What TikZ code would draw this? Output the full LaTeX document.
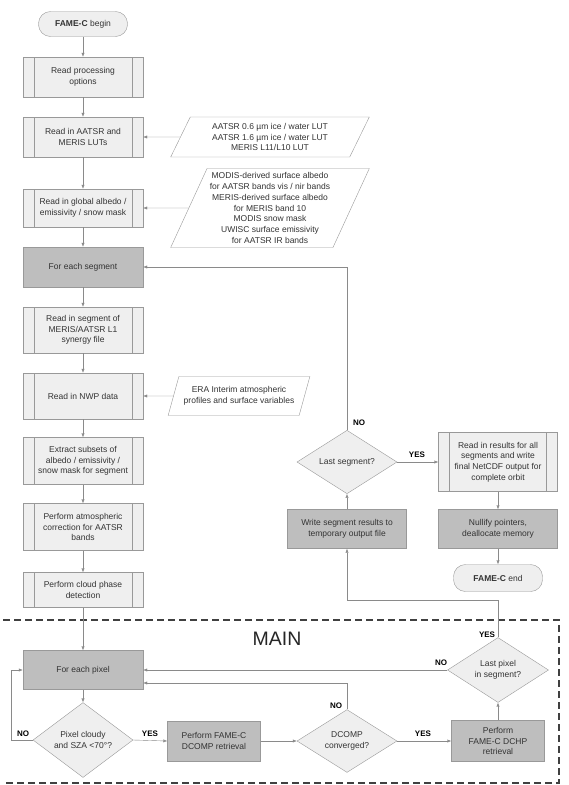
\documentclass[tikz,border=0pt]{standalone}
\usepackage{fontspec}
\setmainfont{Liberation Sans}
\usetikzlibrary{shapes.geometric,arrows.meta}

\definecolor{lightbox}{HTML}{EFEFEF}
\definecolor{darkbox}{HTML}{BEBEBE}
\definecolor{edge}{HTML}{999999}
\definecolor{wire}{HTML}{8A8A8A}
\definecolor{ink}{HTML}{333333}

\begin{document}
\begin{tikzpicture}[x=1pt,y=-1pt,
    every node/.style={font=\fontsize{8.5}{10.7}\selectfont, text=ink, align=center},
    proc/.style={draw=edge, fill=lightbox, minimum width=120pt, minimum height=40pt, inner sep=1pt,
        path picture={
            \draw[edge] ([xshift=11pt]path picture bounding box.north west) -- ([xshift=11pt]path picture bounding box.south west);
            \draw[edge] ([xshift=-11pt]path picture bounding box.north east) -- ([xshift=-11pt]path picture bounding box.south east);}},
    task/.style={draw=edge, fill=darkbox, minimum width=120pt, minimum height=40pt, inner sep=1pt},
    term/.style={draw=edge, fill=lightbox, rounded corners=12pt, minimum width=89pt, minimum height=25pt},
    test/.style={diamond, draw=edge, fill=lightbox, minimum width=100pt, minimum height=59pt, inner sep=0pt},
    data/.style={trapezium, trapezium left angle=64, trapezium right angle=116, trapezium stretches=true,
        draw=edge, fill=white, inner sep=1pt},
    arr/.style={draw=wire, -{Latex[length=4pt,width=3.2pt]}},
    tag/.style={font=\fontsize{8}{9}\selectfont\bfseries, text=black}]

    % page size, same proportions as the original figure
    \fill[white] (0,0) rectangle (569,785);
    \useasboundingbox (0,0) rectangle (569,785);

    % main column
    \node[term] (fcbegin) at (83,24) {\textbf{FAME-C} begin};
    \node[proc] (opts) at (83,77) {Read processing\\options};
    \node[proc] (luts) at (83,137) {Read in AATSR and\\MERIS LUTs};
    \node[proc, minimum height=38pt] (albedo) at (83,208) {Read in global albedo /\\emissivity / snow mask};
    \node[task] (seg) at (83,267) {For each segment};
    \node[proc, minimum height=46pt] (synergy) at (83,330) {Read in segment of\\MERIS/AATSR L1\\synergy file};
    \node[proc, minimum height=46pt] (nwp) at (83,396) {Read in NWP data};
    \node[proc, minimum height=47pt] (subsets) at (83,461) {Extract subsets of\\albedo / emissivity /\\snow mask for segment};
    \node[proc, minimum height=47pt] (atmos) at (83,527) {Perform atmospheric\\correction for AATSR\\bands};
    \node[proc, minimum height=35pt] (phase) at (83,590) {Perform cloud phase\\detection};

    % input data
    \node[data, minimum width=199pt, minimum height=40pt] (lutdata) at (270,137)
        {AATSR 0.6 µm ice / water LUT\\AATSR 1.6 µm ice / water LUT\\MERIS L11/L10 LUT};
    \node[data, minimum width=199pt, minimum height=79pt] (albdata) at (270,208)
        {MODIS-derived surface albedo\\for AATSR bands vis / nir bands\\MERIS-derived surface albedo\\for MERIS band 10\\MODIS snow mask\\UWISC surface emissivity\\for AATSR IR bands};
    \node[data, minimum width=142pt, minimum height=39pt] (eradata) at (239,396)
        {ERA Interim atmospheric\\profiles and surface variables};

    % segment loop, right hand side
    \node[test] (lastseg) at (347,462) {Last segment?};
    \node[task, minimum width=119pt, minimum height=39pt] (write) at (347,529) {Write segment results to\\temporary output file};
    \node[proc, minimum width=119pt, minimum height=59pt] (results) at (498,462) {Read in results for all\\segments and write\\final NetCDF output for\\complete orbit};
    \node[task, minimum width=119pt, minimum height=39pt] (nullify) at (498,529) {Nullify pointers,\\deallocate memory};
    \node[term, minimum height=27pt] (fcend) at (498,578) {\textbf{FAME-C} end};

    % pixel loop (MAIN)
    \node[task, minimum height=39pt] (pixel) at (83,670) {For each pixel};
    \node[test] (cloudy) at (83,740) {Pixel cloudy\\and SZA <70°?};
    \node[task, minimum width=93pt] (dcomp) at (214,741) {Perform FAME-C\\DCOMP retrieval};
    \node[test, minimum height=60pt] (conv) at (347,741) {DCOMP\\converged?};
    \node[task, minimum width=93pt, minimum height=41pt] (dchp) at (498,741) {Perform\\FAME-C DCHP\\retrieval};
    \node[test, minimum width=101pt] (lastpix) at (498,670) {Last pixel\\in segment?};

    \draw[dashed, dash pattern=on 7pt off 4pt, line width=1.3pt, black!75] (3,620) -- (559,620) -- (559,783) -- (3,783);
    \node[font=\fontsize{19.5}{22}\selectfont, text=black!85] (main) at (277,639) {MAIN};

    % straight arrows down the column
    \foreach \a/\b in {fcbegin/opts, opts/luts, luts/albedo, albedo/seg, seg/synergy, synergy/nwp,
                       nwp/subsets, subsets/atmos, atmos/phase, phase/pixel, pixel/cloudy} {
        \draw[arr] (\a.south) -- (\b.north);
    }
    \draw[arr] (lutdata.west) -- (luts.east);
    \draw[arr] (albdata.west) -- (albedo.east);
    \draw[arr] (eradata.west) -- (nwp.east);

    % pixel loop connectors
    \draw[arr] (cloudy.east) -- (dcomp.west);
    \draw[arr] (cloudy.west) -- ++(-22,0) |- (pixel.west);
    \draw[arr] (dcomp.east) -- (conv.west);
    \draw[arr] (conv.east) -- (dchp.west);
    \draw[arr] (conv.north) |- ([yshift=-13pt]pixel.east);
    \draw[arr] (dchp.north) -- (lastpix.south);
    \draw[arr] (lastpix.west) -- (lastpix.west -| pixel.east);
    \draw[arr] (lastpix.north) -- ++(0,-37) -| (write.south);

    % segment loop connectors
    \draw[arr] (write.north) -- (lastseg.south);
    \draw[arr] (lastseg.east) -- (results.west);
    \draw[arr] (lastseg.north) |- (seg.east);
    \draw[arr] (results.south) -- (nullify.north);
    \draw[arr] (nullify.south) -- (fcend.north);

    % YES / NO labels
    \node[tag] (noseg) at (359,423) {NO};
    \node[tag] (yesseg) at (417,455) {YES};
    \node[tag] (nocloudy) at (23,734) {NO};
    \node[tag] (yescloudy) at (150,734) {YES};
    \node[tag] (noconv) at (336,706) {NO};
    \node[tag] (yesconv) at (423,734) {YES};
    \node[tag] (nopix) at (441,663) {NO};
    \node[tag] (yespix) at (487,635) {YES};
\end{tikzpicture}
\end{document}
